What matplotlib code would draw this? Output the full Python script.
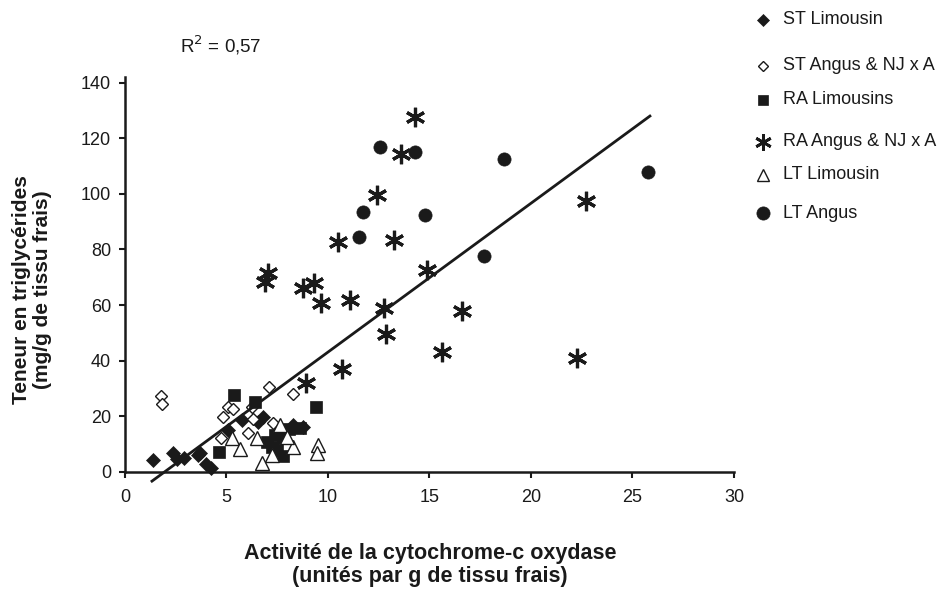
import numpy as np
import matplotlib
matplotlib.use('Agg')
import matplotlib.pyplot as plt
from matplotlib.lines import Line2D

plt.rcParams['font.family'] = ['Liberation Sans', 'DejaVu Sans']

# ST Limousin (losanges pleins)
st_lim_x = [1.40, 2.38, 2.55, 2.92, 3.61, 3.69, 4.00, 4.25, 5.09, 5.75, 6.57, 6.81, 8.29, 8.78]
st_lim_y = [4.3, 6.7, 4.6, 4.9, 6.1, 6.7, 3.0, 1.5, 15.1, 18.7, 18.1, 19.9, 16.9, 16.3]

# ST Angus & NJ x A (losanges vides)
st_ang_x = [1.77, 1.84, 7.11, 8.29, 5.09, 5.34, 4.84, 6.24, 6.29, 7.31, 6.04, 4.73]
st_ang_y = [27.3, 24.4, 30.7, 28.1, 23.5, 22.6, 19.7, 23.5, 19.0, 17.5, 13.9, 12.1]

# RA Limousins (carres)
ra_lim_x = [5.37, 6.40, 9.41, 4.63, 6.98, 7.39, 7.80, 7.47, 7.80, 7.23, 8.62, 8.10]
ra_lim_y = [27.7, 25.3, 23.5, 7.3, 10.9, 13.3, 12.1, 7.9, 5.8, 9.1, 15.7, 15.5]

# RA Angus & NJ x A (asterisques)
ra_ang_x = [14.29, 13.58, 12.40, 10.51, 13.27, 22.71, 14.86, 9.33, 8.78, 9.64,
            11.08, 12.76, 16.62, 12.86, 15.60, 22.25, 10.67, 8.92, 7.04, 6.90]
ra_ang_y = [127.6, 114.4, 99.7, 82.5, 83.5, 97.3, 72.7, 67.9, 66.1, 60.7,
            61.9, 58.9, 57.7, 49.6, 43.3, 40.9, 36.9, 31.9, 71.6, 68.4]

# LT Limousin (triangles vides)
lt_lim_x = [5.25, 5.67, 6.49, 6.73, 7.64, 8.29, 9.52, 9.44, 7.23, 7.96]
lt_lim_y = [12.1, 8.2, 12.1, 3.1, 16.9, 8.9, 9.7, 6.9, 6.1, 12.7]

# LT Angus (ronds)
lt_ang_x = [12.56, 14.29, 18.67, 25.78, 11.71, 14.78, 11.53, 17.67]
lt_ang_y = [116.7, 114.9, 112.5, 107.7, 93.6, 92.5, 84.3, 77.6]

# droite de regression
slope, intercept = 5.35, -10.4
line_x = [1.33, 25.86]

labels = ['ST Limousin', 'ST Angus & NJ x A', 'RA Limousins',
          'RA Angus & NJ x A', 'LT Limousin', 'LT Angus']

K = '#1a1a1a'
styles = [
    dict(marker='D', ms=7, mfc=K, mec=K, mew=0.5),
    dict(marker='D', ms=6.5, mfc='white', mec=K, mew=1),
    dict(marker='s', ms=8.5, mfc=K, mec=K, mew=0.5),
    dict(marker=(6, 2, 0), ms=14, mfc=K, mec=K, mew=2.3),
    dict(marker='^', ms=9.5, mfc='white', mec=K, mew=1),
    dict(marker='o', ms=9.5, mfc=K, mec=K, mew=0.5),
]
series = [(st_lim_x, st_lim_y), (st_ang_x, st_ang_y), (ra_lim_x, ra_lim_y),
          (ra_ang_x, ra_ang_y), (lt_lim_x, lt_lim_y), (lt_ang_x, lt_ang_y)]

fig = plt.figure(figsize=(9.49, 5.94), dpi=100)
ax = fig.add_axes([0.1317, 0.2054, 0.7734 - 0.1317, 0.8704 - 0.2054])

for (xs, ys), st in zip(series, styles):
    ax.plot(xs, ys, ls='none', clip_on=False, **st)

lx = np.array(line_x)
ax.plot(lx, slope * lx + intercept, color=K, lw=2, clip_on=False)

ax.set_xlim(0, 30)
ax.set_ylim(0, 142)
ax.set_xticks(range(0, 31, 5))
ax.set_yticks(range(0, 141, 20))
for s in ['top', 'right']:
    ax.spines[s].set_visible(False)
for s in ['left', 'bottom']:
    ax.spines[s].set_linewidth(1.8)
    ax.spines[s].set_color(K)
ax.tick_params(axis='both', length=4, width=1.5, color=K, labelsize=13,
               labelcolor=K)
ax.tick_params(axis='x', pad=8)
ax.tick_params(axis='y', pad=6)

fig.text(0.232, 1 - 45 / 594, 'R$^2$ = 0,57', fontsize=13.5, color=K,
         ha='center', va='center')

fig.text(0.453, 1 - 565 / 594,
         'Activité de la cytochrome-c oxydase\n(unités par g de tissu frais)',
         fontsize=15.5, fontweight='bold', color=K, ha='center', va='center',
         multialignment='center', linespacing=1.15)
fig.text(0.034, 0.512, 'Teneur en triglycérides\n(mg/g de tissu frais)',
         fontsize=15, fontweight='bold', color=K, ha='center', va='center',
         rotation=90, multialignment='center', linespacing=1.15)

# legende manuelle
leg_rows = [20, 66, 100, 142, 175, 213]
leg_ms = [6.5, 5, 7.5, 12, 8, 9.5]
for lab, yy, st, ms in zip(labels, leg_rows, styles, leg_ms):
    st2 = dict(st)
    st2['ms'] = ms
    if st2['marker'] == (6, 2, 0):
        st2['mew'] = 2
    fig.add_artist(Line2D([763 / 949], [1 - yy / 594], ls='none',
                          transform=fig.transFigure, **st2))
    fig.text(783 / 949, 1 - yy / 594, lab, fontsize=13, color=K,
             ha='left', va='center')

fig.savefig('out.png', dpi=100)
